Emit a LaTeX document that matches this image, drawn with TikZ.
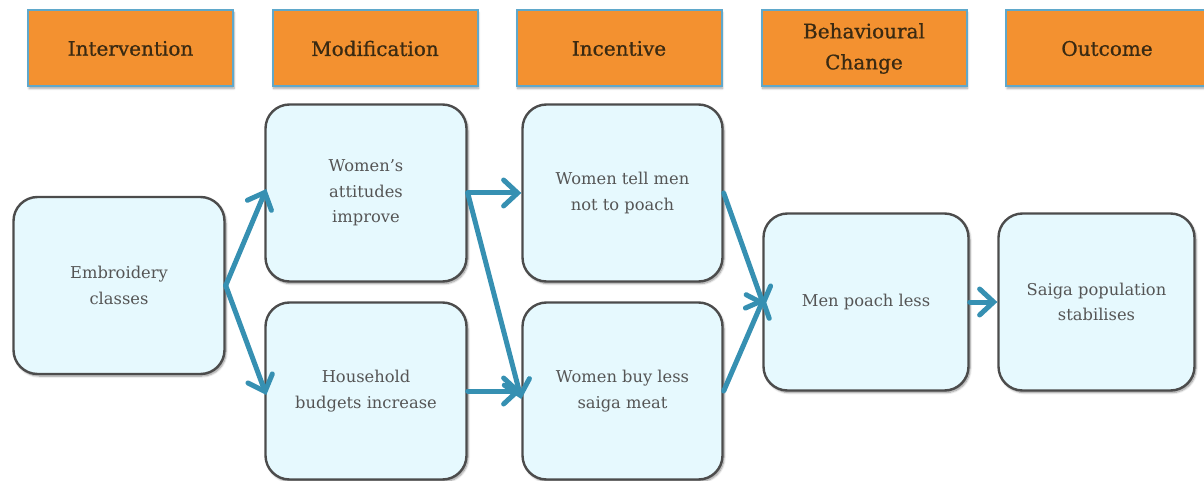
\documentclass[tikz,border=0pt]{standalone}
\usepackage{fontspec}
\setmainfont{DejaVu Serif}
\newfontfamily\headfont{DejaVu Serif}[FakeBold=0.8]
\usetikzlibrary{arrows.meta,shadows.blur}

\definecolor{headfill}{HTML}{F39130}
\definecolor{headline}{HTML}{5FA8CB}
\definecolor{headtext}{HTML}{3A2A12}
\definecolor{boxfill}{HTML}{E6F9FE}
\definecolor{boxline}{HTML}{4C4C4C}
\definecolor{boxtext}{HTML}{555555}
\definecolor{flow}{HTML}{3690B2}

\tikzset{
  header/.style={draw=headline, line width=2pt, fill=headfill,
    minimum width=205pt, minimum height=76pt, inner sep=0pt,
    align=center, text=headtext,
    font=\headfont\fontsize{20}{31}\selectfont,
    blur shadow={shadow xshift=1pt, shadow yshift=-2pt, shadow blur steps=6, shadow opacity=35}},
  stepbox/.style={draw=boxline, line width=2.4pt, fill=boxfill,
    rounded corners=24pt, minimum height=177pt, inner sep=0pt,
    align=center, text=boxtext,
    font=\fontsize{16.3}{25.5}\selectfont,
    blur shadow={shadow xshift=1.5pt, shadow yshift=-2pt, shadow blur steps=8, shadow opacity=45}},
  flowarrow/.style={draw=flow, line width=5pt, line cap=round,
    -{Straight Barb[length=14pt,width=26pt,line cap=round]}},
}

\begin{document}
\begin{tikzpicture}[x=1pt,y=-1pt]
\useasboundingbox (0,0) rectangle (1204,481);

% stage headers
\node[header] (h1) at (130.5,48.5) {Intervention};
\node[header] (h2) at (375,48.5) {Modification};
\node[header] (h3) at (619,48.5) {Incentive};
\node[header] (h4) at (864,48.5) {Behavioural\\Change};
\node[header, minimum width=206pt] (h5) at (1109,48.5) {\hspace*{-4pt}Outcome};

% causal chain boxes
\node[stepbox, minimum width=211pt] (emb) at (119,285.5) {Embroidery\\classes};
\node[stepbox, minimum width=201pt] (att) at (366,193) {Women's\\attitudes\\improve};
\node[stepbox, minimum width=201pt] (hh)  at (366,391) {Household\\budgets increase};
\node[stepbox, minimum width=200pt] (wt)  at (622.5,193) {Women tell men\\not to poach};
\node[stepbox, minimum width=200pt] (wb)  at (622.5,391) {Women buy less\\saiga meat};
\node[stepbox, minimum width=205pt] (men) at (866,302) {Men poach less};
\node[stepbox, minimum width=196pt] (sai) at (1096.5,302) {Saiga population\\stabilises};

% connectors
\draw[flowarrow] (emb.east) -- ([shift={(2pt,4pt)}]att.west);
\draw[flowarrow] (emb.east) -- ([shift={(2pt,-4pt)}]hh.west);
\draw[flowarrow] (att.east) -- (wt.west);
\draw[flowarrow] (att.east) -- ([yshift=-8pt]wb.west);
\draw[flowarrow] (hh.east) -- (wb.west);
\draw[flowarrow] (wt.east) -- ([shift={(2pt,-5pt)}]men.west);
\draw[flowarrow] (wb.east) -- ([shift={(2pt,5pt)}]men.west);
\draw[flowarrow] (men.east) -- (sai.west);
\end{tikzpicture}
\end{document}
